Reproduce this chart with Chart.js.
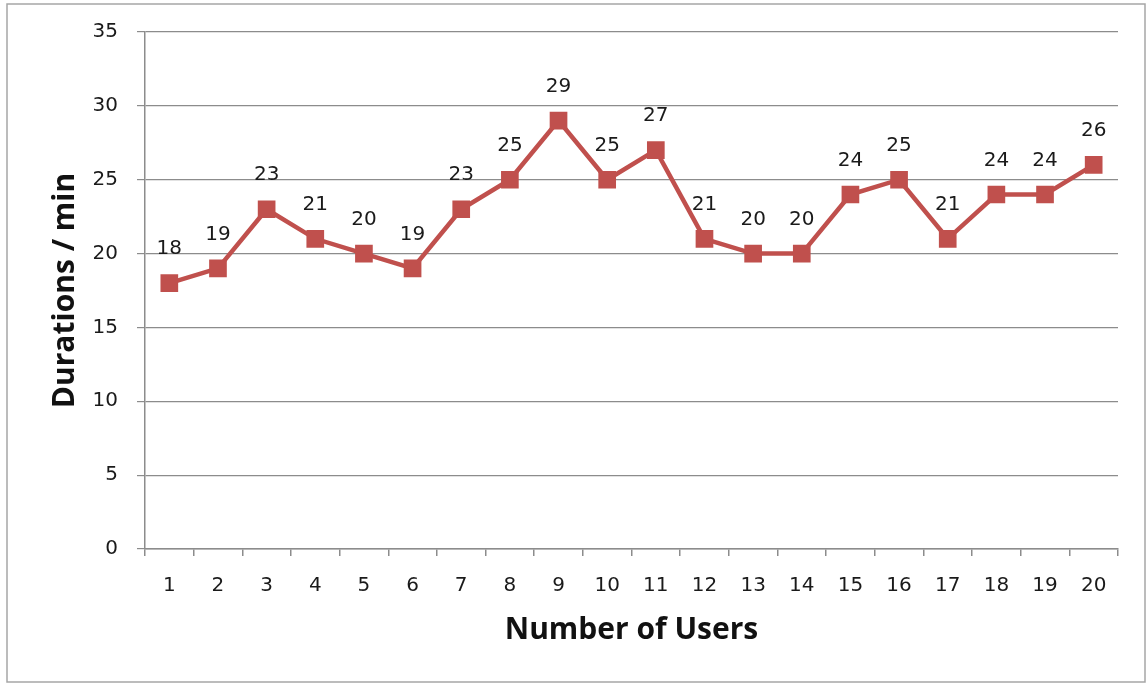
<!DOCTYPE html>
<html>
<head>
<meta charset="utf-8">
<title>Durations per number of users</title>
<script src="https://cdn.jsdelivr.net/npm/chart.js@4"></script>
<style>
  html, body { margin: 0; padding: 0; background: #fff; }
  #wrap { width: 1148px; height: 684px; position: relative; }
</style>
</head>
<body>
<div id="wrap"><canvas id="chart" width="1148" height="684"></canvas></div>
<script>
// Data
const users = ['1','2','3','4','5','6','7','8','9','10','11','12','13','14','15','16','17','18','19','20'];
const durations = [18, 19, 23, 21, 20, 19, 23, 25, 29, 25, 27, 21, 20, 20, 24, 25, 21, 24, 24, 26];
const yTicks = [0, 5, 10, 15, 20, 25, 30, 35];

const red = '#C0504D';
const axisGray = '#8c8c8c';
const tickFont = { family: 'DejaVu Sans', size: 20 };

// outer frame like the spreadsheet chart box
const framePlugin = {
    id: 'frame',
    beforeDraw(chart){
        const ctx = chart.ctx;
        ctx.save();
        ctx.fillStyle = '#fff';
        ctx.fillRect(0, 0, chart.width, chart.height);
        ctx.strokeStyle = '#a6a6a6';
        ctx.lineWidth = 1.5;
        ctx.strokeRect(7, 4, 1138, 678);
        ctx.restore();
    }
};

// value labels above each point
const labelPlugin = {
    id: 'pointLabels',
    afterDatasetsDraw(chart){
        const ctx = chart.ctx;
        const meta = chart.getDatasetMeta(0);
        ctx.save();
        ctx.font = '20px "DejaVu Sans"';
        ctx.fillStyle = '#1a1a1a';
        ctx.textAlign = 'center';
        ctx.textBaseline = 'middle';
        meta.data.forEach((pt, i) => {
            ctx.fillText(durations[i], pt.x, pt.y - 34);
        });
        ctx.restore();
    }
};

new Chart(document.getElementById('chart'), {
    type: 'line',
    data: {
        labels: users,
        datasets: [{
            label: 'Durations',
            data: durations,
            borderColor: red,
            backgroundColor: red,
            borderWidth: 4.5,
            pointStyle: 'rect',
            pointRadius: 12.5,
            pointBorderWidth: 0,
            pointBackgroundColor: red,
            tension: 0
        }]
    },
    options: {
        responsive: false,
        animation: false,
        layout: { padding: { left: 0, right: 30, top: 32, bottom: 0 } },
        plugins: {
            legend: { display: false },
            tooltip: { enabled: false }
        },
        scales: {
            x: {
                offset: true,
                grid: { offset: true, drawOnChartArea: false, drawTicks: true, tickLength: 7, color: axisGray, lineWidth: 1.5 },
                border: { color: axisGray, width: 1.5 },
                ticks: { font: tickFont, color: '#1a1a1a', padding: 18, maxRotation: 0, autoSkip: false },
                title: {
                    display: true,
                    text: 'Number of Users',
                    font: { family: 'Open Sans', size: 30, weight: 'bold' },
                    color: '#111',
                    padding: { top: 0, bottom: 36 }
                },
                afterFit(scale){ scale.height = 135; }
            },
            y: {
                min: 0,
                max: 35,
                afterBuildTicks(scale){ scale.ticks = yTicks.map(v => ({ value: v })); },
                grid: { color: axisGray, lineWidth: 1.2, tickLength: 8 },
                border: { color: axisGray, width: 1.5 },
                ticks: { font: tickFont, color: '#1a1a1a', padding: 19 },
                title: {
                    display: true,
                    text: 'Durations / min',
                    font: { family: 'Open Sans', size: 30, weight: 'bold' },
                    color: '#111',
                    padding: { top: 47, bottom: 0 }
                },
                afterFit(scale){ scale.width = 145; }
            }
        }
    },
    plugins: [framePlugin, labelPlugin]
});
</script>
</body>
</html>
